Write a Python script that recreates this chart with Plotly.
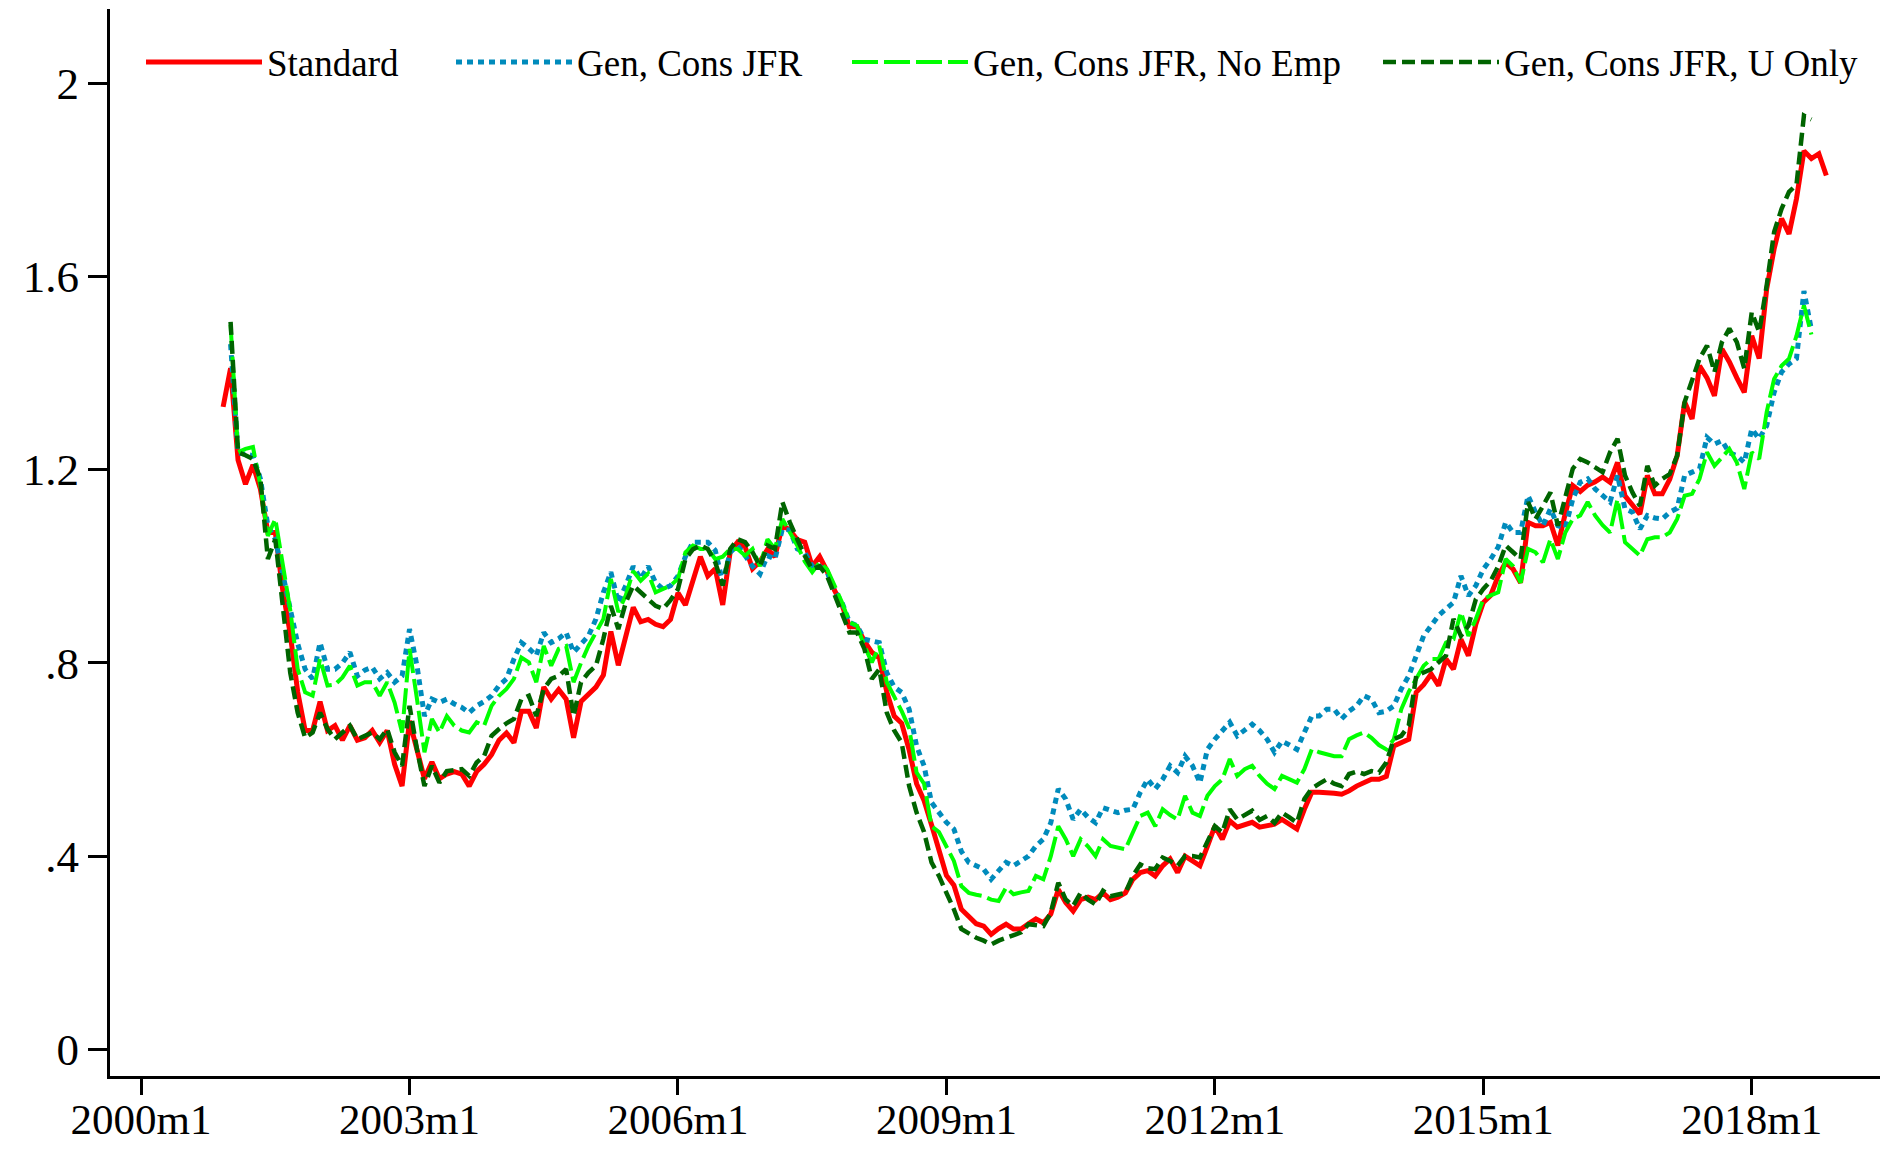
import plotly.graph_objects as go

# months counted from 2000m1 (=0)
START_STANDARD = 11   # 2000m12
START_GEN = 12        # 2001m1

standard = [
    1.33, 1.41, 1.22, 1.17, 1.21, 1.16, 1.07, 1.07, 0.95, 0.86,
    0.74, 0.66, 0.66, 0.72, 0.66, 0.67, 0.64, 0.67, 0.64, 0.645,
    0.66, 0.635, 0.66, 0.59, 0.545, 0.68, 0.62, 0.56, 0.595, 0.56,
    0.57, 0.575, 0.57, 0.545, 0.575, 0.59, 0.61, 0.64, 0.655, 0.635,
    0.70, 0.70, 0.665, 0.75, 0.725, 0.745, 0.725, 0.645, 0.72, 0.735,
    0.75, 0.775, 0.865, 0.795, 0.855, 0.915, 0.885, 0.89, 0.88, 0.875,
    0.89, 0.945, 0.92, 0.97, 1.02, 0.98, 0.995, 0.92, 1.03, 1.05,
    1.04, 0.995, 1.01, 1.035, 1.02, 1.085, 1.075, 1.055, 1.05, 1.0,
    1.02, 0.99, 0.95, 0.92, 0.875, 0.875, 0.845, 0.822, 0.81, 0.74,
    0.69, 0.675, 0.62, 0.55, 0.515, 0.465, 0.41, 0.36, 0.34, 0.29,
    0.275, 0.26, 0.255, 0.238, 0.25, 0.259, 0.249, 0.249, 0.26, 0.27,
    0.262, 0.28, 0.331, 0.304, 0.286, 0.31, 0.315, 0.31, 0.324, 0.31,
    0.315, 0.324, 0.352, 0.366, 0.37, 0.359, 0.38, 0.394, 0.366, 0.40,
    0.39, 0.38, 0.42, 0.462, 0.435, 0.473, 0.46, 0.465, 0.47, 0.46,
    0.463, 0.466, 0.476, 0.466, 0.456, 0.497, 0.532, 0.532, 0.532, 0.53,
    0.528, 0.535, 0.545, 0.552, 0.559, 0.559, 0.565, 0.628, 0.635, 0.642,
    0.739, 0.755, 0.777, 0.753, 0.808, 0.787, 0.849, 0.815, 0.88, 0.925,
    0.94, 0.98, 1.008, 0.994, 0.966, 1.091, 1.084, 1.084, 1.091, 1.043,
    1.11, 1.167, 1.155, 1.168, 1.175, 1.185, 1.174, 1.215, 1.146, 1.125,
    1.108, 1.188, 1.15, 1.15, 1.18, 1.229, 1.34, 1.305, 1.415, 1.39,
    1.353, 1.45, 1.423, 1.39, 1.36, 1.477, 1.43, 1.574, 1.657, 1.72,
    1.688, 1.761, 1.86, 1.844, 1.854, 1.809,
]

gen_cons_jfr = [
    1.46, 1.235, 1.232, 1.229, 1.181, 1.084, 1.056, 0.98, 0.915, 0.84,
    0.787, 0.767, 0.842, 0.787, 0.787, 0.80, 0.822, 0.773, 0.785, 0.791,
    0.767, 0.78, 0.76, 0.773, 0.87, 0.794, 0.69, 0.725, 0.718, 0.725,
    0.715, 0.708, 0.697, 0.711, 0.72, 0.732, 0.753, 0.767, 0.808, 0.842,
    0.83, 0.815, 0.863, 0.842, 0.85, 0.863, 0.822, 0.84, 0.856, 0.891,
    0.946, 0.988, 0.925, 0.96, 1.0, 0.974, 1.0, 0.966, 0.953, 0.96,
    0.98, 1.02, 1.05, 1.05, 1.05, 1.033, 0.966, 1.029, 1.043, 1.022,
    1.0, 0.984, 1.022, 1.015, 1.077, 1.075, 1.036, 1.029, 1.0, 1.0,
    0.988, 0.95, 0.925, 0.884, 0.877, 0.849, 0.845, 0.842, 0.78, 0.75,
    0.739, 0.704, 0.628, 0.587, 0.511, 0.49, 0.47, 0.456, 0.41, 0.387,
    0.38, 0.373, 0.352, 0.37, 0.387, 0.38, 0.39, 0.4, 0.421, 0.435,
    0.469, 0.539, 0.518, 0.476, 0.497, 0.48, 0.469, 0.5, 0.495, 0.49,
    0.495, 0.497, 0.532, 0.559, 0.539, 0.559, 0.587, 0.573, 0.607, 0.587,
    0.552, 0.621, 0.642, 0.66, 0.677, 0.649, 0.66, 0.673, 0.66, 0.642,
    0.615, 0.638, 0.63, 0.621, 0.656, 0.69, 0.69, 0.704, 0.704, 0.684,
    0.70, 0.711, 0.732, 0.725, 0.697, 0.70, 0.711, 0.746, 0.773, 0.815,
    0.856, 0.877, 0.898, 0.912, 0.925, 0.98, 0.939, 0.96, 0.994, 1.015,
    1.04, 1.091, 1.07, 1.07, 1.146, 1.112, 1.084, 1.119, 1.084, 1.08,
    1.139, 1.174, 1.181, 1.16, 1.146, 1.133, 1.188, 1.119, 1.112, 1.077,
    1.105, 1.1, 1.098, 1.112, 1.12, 1.188, 1.195, 1.202, 1.267, 1.253,
    1.26, 1.235, 1.229, 1.215, 1.284, 1.264, 1.291, 1.36, 1.402, 1.419,
    1.43, 1.57, 1.49,
]

gen_no_emp = [
    1.50, 1.236, 1.243, 1.247, 1.167, 1.063, 1.098, 1.0, 0.91, 0.787,
    0.739, 0.732, 0.808, 0.753, 0.755, 0.77, 0.794, 0.753, 0.76, 0.76,
    0.732, 0.76, 0.718, 0.656, 0.829, 0.725, 0.615, 0.684, 0.656, 0.69,
    0.67, 0.66, 0.656, 0.677, 0.67, 0.711, 0.732, 0.746, 0.767, 0.811,
    0.801, 0.76, 0.835, 0.794, 0.829, 0.835, 0.76, 0.80, 0.835, 0.863,
    0.891, 0.974, 0.905, 0.94, 0.99, 0.97, 0.985, 0.946, 0.953, 0.96,
    0.974, 1.029, 1.043, 1.036, 1.036, 1.015, 1.02, 1.036, 1.036, 1.022,
    1.036, 1.0, 1.056, 1.036, 1.098, 1.07, 1.043, 1.01, 0.988, 1.008,
    0.994, 0.96, 0.925, 0.884, 0.877, 0.835, 0.801, 0.835, 0.76, 0.73,
    0.70, 0.665, 0.573, 0.55, 0.462, 0.45, 0.42, 0.39, 0.338, 0.324,
    0.32, 0.317, 0.31, 0.307, 0.335, 0.321, 0.325, 0.328, 0.359, 0.352,
    0.40, 0.462, 0.435, 0.40, 0.435, 0.42, 0.40, 0.435, 0.421, 0.418,
    0.414, 0.449, 0.483, 0.49, 0.462, 0.497, 0.485, 0.476, 0.525, 0.49,
    0.483, 0.525, 0.545, 0.559, 0.601, 0.566, 0.58, 0.587, 0.566, 0.55,
    0.539, 0.566, 0.56, 0.552, 0.58, 0.621, 0.615, 0.61, 0.607, 0.607,
    0.642, 0.65, 0.656, 0.645, 0.63, 0.621, 0.642, 0.704, 0.74, 0.767,
    0.794, 0.808, 0.808, 0.842, 0.849, 0.905, 0.856, 0.891, 0.932, 0.94,
    0.946, 1.015, 1.0, 0.966, 1.036, 1.029, 1.008, 1.056, 1.015, 1.07,
    1.098, 1.105, 1.133, 1.105, 1.085, 1.07, 1.139, 1.05, 1.036, 1.022,
    1.056, 1.06, 1.06, 1.07, 1.098, 1.146, 1.15, 1.181, 1.236, 1.208,
    1.225, 1.243, 1.215, 1.16, 1.236, 1.222, 1.319, 1.388, 1.415, 1.43,
    1.477, 1.54, 1.48,
]

gen_u_only = [
    1.506, 1.236, 1.23, 1.222, 1.181, 1.015, 1.056, 0.92, 0.78, 0.697,
    0.645, 0.656, 0.697, 0.663, 0.642, 0.656, 0.67, 0.642, 0.65, 0.656,
    0.642, 0.663, 0.615, 0.587, 0.711, 0.621, 0.545, 0.587, 0.552, 0.576,
    0.578, 0.58, 0.566, 0.594, 0.607, 0.649, 0.663, 0.675, 0.684, 0.725,
    0.732, 0.69, 0.746, 0.767, 0.773, 0.787, 0.69, 0.76, 0.78, 0.794,
    0.85, 0.918, 0.87, 0.925, 0.96, 0.946, 0.93, 0.918, 0.912, 0.93,
    0.953, 1.015, 1.035, 1.043, 1.036, 1.008, 0.96, 1.036, 1.056, 1.05,
    1.029, 1.0, 1.043, 1.036, 1.133, 1.091, 1.056, 1.022, 0.994, 1.0,
    0.98, 0.939, 0.9, 0.863, 0.863, 0.829, 0.767, 0.787, 0.697, 0.66,
    0.635, 0.545, 0.49, 0.45, 0.387, 0.359, 0.324, 0.29, 0.249, 0.24,
    0.231, 0.225, 0.217, 0.225, 0.231, 0.236, 0.242, 0.259, 0.257, 0.255,
    0.283, 0.345, 0.31, 0.297, 0.324, 0.31, 0.30, 0.328, 0.317, 0.32,
    0.324, 0.359, 0.383, 0.375, 0.373, 0.397, 0.39, 0.38, 0.40, 0.40,
    0.397, 0.43, 0.462, 0.449, 0.497, 0.476, 0.485, 0.494, 0.475, 0.483,
    0.469, 0.49, 0.48, 0.469, 0.518, 0.54, 0.55, 0.559, 0.55, 0.545,
    0.57, 0.575, 0.57, 0.576, 0.573, 0.594, 0.642, 0.649, 0.67, 0.773,
    0.78, 0.787, 0.801, 0.815, 0.891, 0.856, 0.877, 0.932, 0.953, 0.97,
    1.0, 1.043, 1.029, 1.015, 1.133, 1.098, 1.125, 1.153, 1.084, 1.146,
    1.202, 1.222, 1.215, 1.205, 1.195, 1.236, 1.264, 1.188, 1.153, 1.125,
    1.208, 1.167, 1.181, 1.191, 1.229, 1.34, 1.388, 1.43, 1.457, 1.402,
    1.464, 1.492, 1.464, 1.409, 1.526, 1.485, 1.581, 1.692, 1.74, 1.775,
    1.79, 1.933, 1.925,
]

x_tick_months = [0, 36, 72, 108, 144, 180, 216]
x_tick_labels = ["2000m1", "2003m1", "2006m1", "2009m1", "2012m1", "2015m1", "2018m1"]
y_tick_vals = [0, 0.4, 0.8, 1.2, 1.6, 2.0]
y_tick_labels = ["0", ".4", ".8", "1.2", "1.6", "2"]

series = [
    ("Standard", START_STANDARD, standard, "#FF0000", "solid", 5.0),
    ("Gen, Cons JFR", START_GEN, gen_cons_jfr, "#008BBC", "6px,5px", 5.0),
    ("Gen, Cons JFR, No Emp", START_GEN, gen_no_emp, "#00FF00", "26px,6px", 4.0),
    ("Gen, Cons JFR, U Only", START_GEN, gen_u_only, "#006400", "13px,6px", 4.5),
]

W, H = 1893, 1149
legend_left_px = [141, 451, 847, 1378]
legend_names = ["legend", "legend2", "legend3", "legend4"]

fig = go.Figure()
for i, (name, start, vals, color, dash, width) in enumerate(series):
    fig.add_trace(go.Scatter(
        x=list(range(start, start + len(vals))), y=vals, mode="lines", name=name,
        line=dict(color=color, dash=dash, width=width),
        legend=legend_names[i], showlegend=True,
    ))

font_family = "Liberation Serif, Times New Roman, serif"
layout_legends = {}
for i, ln in enumerate(legend_names):
    layout_legends[ln] = dict(
        x=legend_left_px[i] / W, xref="container", xanchor="left",
        y=1 - 62.5 / H, yref="container", yanchor="middle",
        orientation="h", bgcolor="rgba(0,0,0,0)", borderwidth=0,
        font=dict(family=font_family, size=37, color="black"),
        itemwidth=116,
    )

fig.update_layout(
    width=W, height=H, showlegend=True,
    margin=dict(l=110, r=13, t=9, b=73, autoexpand=False),
    paper_bgcolor="white", plot_bgcolor="white",
    font=dict(family=font_family, color="black"),
    **layout_legends,
)
fig.update_xaxes(
    range=[-4.17, 233.2], tickmode="array", tickvals=x_tick_months, ticktext=x_tick_labels,
    showgrid=False, zeroline=False, showline=True, linecolor="black", linewidth=3,
    ticks="outside", ticklen=16, tickwidth=2.5, tickcolor="black",
    ticklabelstandoff=-13,
    tickfont=dict(family=font_family, size=43, color="black"),
)
fig.update_yaxes(
    range=[-0.0552, 2.1537], tickmode="array", tickvals=y_tick_vals, ticktext=y_tick_labels,
    showgrid=False, zeroline=False, showline=True, linecolor="black", linewidth=3,
    ticks="outside", ticklen=19, tickwidth=2.5, tickcolor="black",
    tickfont=dict(family=font_family, size=45, color="black"),
)

fig.write_html("out.html")
